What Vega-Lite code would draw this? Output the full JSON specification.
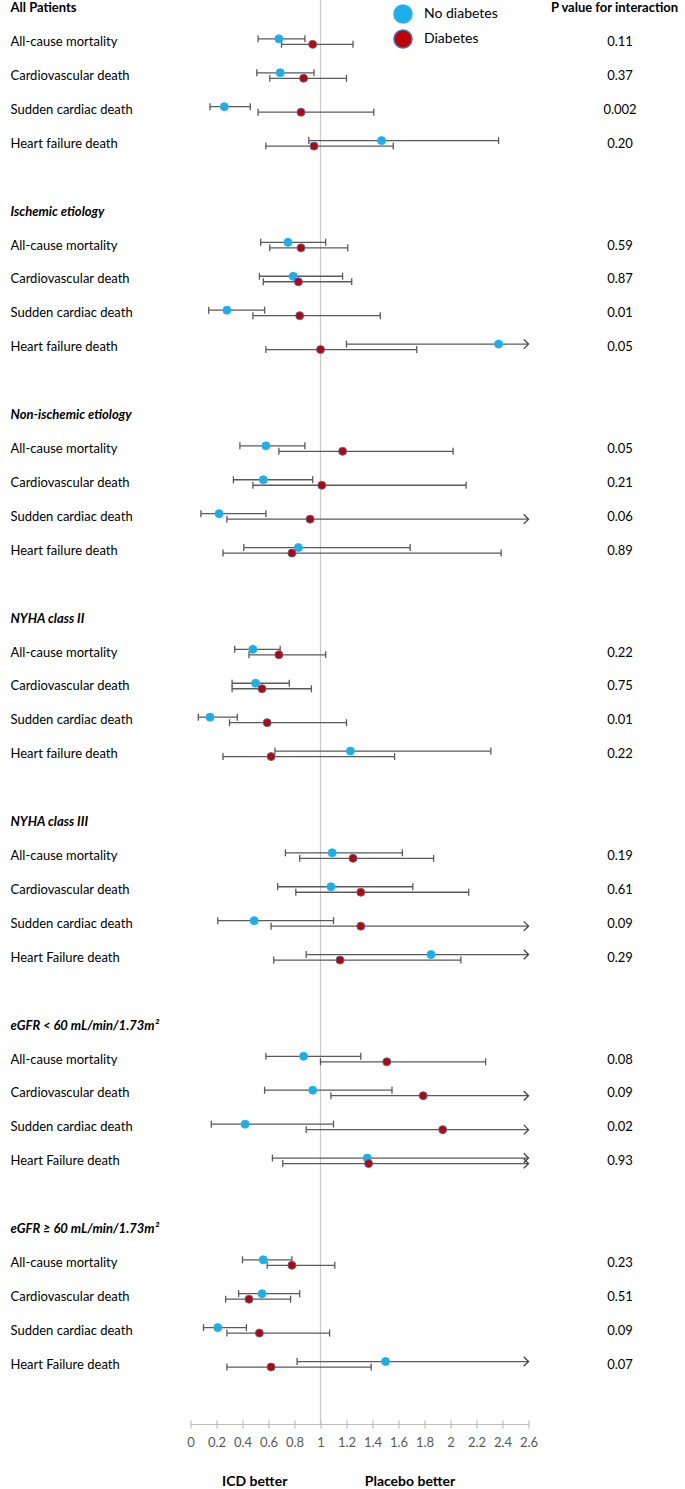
{
  "$schema": "https://vega.github.io/schema/vega-lite/v6.json",
  "width": 338,
  "height": 1424,
  "autosize": {"type": "none"},
  "padding": {"left": 190.5, "top": 0, "right": 156.5, "bottom": 65},
  "background": "white",
  "config": {
    "view": {"stroke": null},
    "font": "Lato",
    "axis": {"grid": false, "title": null},
    "legend": {"padding": 0}
  },
  "data": {"values": [
    {"key": "r1a|All-cause mortality|0.11", "group": "No diabetes", "hr": 0.68, "lo": 0.52, "hi": 0.88, "arrow": false},
    {"key": "r1a|All-cause mortality|0.11", "group": "Diabetes", "hr": 0.94, "lo": 0.70, "hi": 1.25, "arrow": false},
    {"key": "r1b|Cardiovascular death|0.37", "group": "No diabetes", "hr": 0.69, "lo": 0.51, "hi": 0.95, "arrow": false},
    {"key": "r1b|Cardiovascular death|0.37", "group": "Diabetes", "hr": 0.87, "lo": 0.61, "hi": 1.20, "arrow": false},
    {"key": "r1c|Sudden cardiac death|0.002", "group": "No diabetes", "hr": 0.26, "lo": 0.15, "hi": 0.46, "arrow": false},
    {"key": "r1c|Sudden cardiac death|0.002", "group": "Diabetes", "hr": 0.85, "lo": 0.52, "hi": 1.41, "arrow": false},
    {"key": "r1d|Heart failure death|0.20", "group": "No diabetes", "hr": 1.47, "lo": 0.91, "hi": 2.37, "arrow": false},
    {"key": "r1d|Heart failure death|0.20", "group": "Diabetes", "hr": 0.95, "lo": 0.58, "hi": 1.56, "arrow": false},
    {"key": "r2a|All-cause mortality|0.59", "group": "No diabetes", "hr": 0.75, "lo": 0.54, "hi": 1.04, "arrow": false},
    {"key": "r2a|All-cause mortality|0.59", "group": "Diabetes", "hr": 0.85, "lo": 0.61, "hi": 1.21, "arrow": false},
    {"key": "r2b|Cardiovascular death|0.87", "group": "No diabetes", "hr": 0.79, "lo": 0.53, "hi": 1.17, "arrow": false},
    {"key": "r2b|Cardiovascular death|0.87", "group": "Diabetes", "hr": 0.83, "lo": 0.56, "hi": 1.24, "arrow": false},
    {"key": "r2c|Sudden cardiac death|0.01", "group": "No diabetes", "hr": 0.28, "lo": 0.14, "hi": 0.57, "arrow": false},
    {"key": "r2c|Sudden cardiac death|0.01", "group": "Diabetes", "hr": 0.84, "lo": 0.48, "hi": 1.46, "arrow": false},
    {"key": "r2d|Heart failure death|0.05", "group": "No diabetes", "hr": 2.37, "lo": 1.20, "hi": 2.6, "arrow": true},
    {"key": "r2d|Heart failure death|0.05", "group": "Diabetes", "hr": 1.00, "lo": 0.58, "hi": 1.74, "arrow": false},
    {"key": "r3a|All-cause mortality|0.05", "group": "No diabetes", "hr": 0.58, "lo": 0.38, "hi": 0.88, "arrow": false},
    {"key": "r3a|All-cause mortality|0.05", "group": "Diabetes", "hr": 1.17, "lo": 0.68, "hi": 2.02, "arrow": false},
    {"key": "r3b|Cardiovascular death|0.21", "group": "No diabetes", "hr": 0.56, "lo": 0.33, "hi": 0.94, "arrow": false},
    {"key": "r3b|Cardiovascular death|0.21", "group": "Diabetes", "hr": 1.01, "lo": 0.48, "hi": 2.12, "arrow": false},
    {"key": "r3c|Sudden cardiac death|0.06", "group": "No diabetes", "hr": 0.22, "lo": 0.08, "hi": 0.58, "arrow": false},
    {"key": "r3c|Sudden cardiac death|0.06", "group": "Diabetes", "hr": 0.92, "lo": 0.28, "hi": 2.6, "arrow": true},
    {"key": "r3d|Heart failure death|0.89", "group": "No diabetes", "hr": 0.83, "lo": 0.41, "hi": 1.69, "arrow": false},
    {"key": "r3d|Heart failure death|0.89", "group": "Diabetes", "hr": 0.78, "lo": 0.25, "hi": 2.39, "arrow": false},
    {"key": "r4a|All-cause mortality|0.22", "group": "No diabetes", "hr": 0.48, "lo": 0.34, "hi": 0.69, "arrow": false},
    {"key": "r4a|All-cause mortality|0.22", "group": "Diabetes", "hr": 0.68, "lo": 0.45, "hi": 1.04, "arrow": false},
    {"key": "r4b|Cardiovascular death|0.75", "group": "No diabetes", "hr": 0.50, "lo": 0.32, "hi": 0.76, "arrow": false},
    {"key": "r4b|Cardiovascular death|0.75", "group": "Diabetes", "hr": 0.55, "lo": 0.32, "hi": 0.93, "arrow": false},
    {"key": "r4c|Sudden cardiac death|0.01", "group": "No diabetes", "hr": 0.15, "lo": 0.06, "hi": 0.36, "arrow": false},
    {"key": "r4c|Sudden cardiac death|0.01", "group": "Diabetes", "hr": 0.59, "lo": 0.30, "hi": 1.20, "arrow": false},
    {"key": "r4d|Heart failure death|0.22", "group": "No diabetes", "hr": 1.23, "lo": 0.65, "hi": 2.31, "arrow": false},
    {"key": "r4d|Heart failure death|0.22", "group": "Diabetes", "hr": 0.62, "lo": 0.25, "hi": 1.57, "arrow": false},
    {"key": "r5a|All-cause mortality|0.19", "group": "No diabetes", "hr": 1.09, "lo": 0.73, "hi": 1.63, "arrow": false},
    {"key": "r5a|All-cause mortality|0.19", "group": "Diabetes", "hr": 1.25, "lo": 0.84, "hi": 1.87, "arrow": false},
    {"key": "r5b|Cardiovascular death|0.61", "group": "No diabetes", "hr": 1.08, "lo": 0.67, "hi": 1.71, "arrow": false},
    {"key": "r5b|Cardiovascular death|0.61", "group": "Diabetes", "hr": 1.31, "lo": 0.81, "hi": 2.14, "arrow": false},
    {"key": "r5c|Sudden cardiac death|0.09", "group": "No diabetes", "hr": 0.49, "lo": 0.21, "hi": 1.10, "arrow": false},
    {"key": "r5c|Sudden cardiac death|0.09", "group": "Diabetes", "hr": 1.31, "lo": 0.62, "hi": 2.6, "arrow": true},
    {"key": "r5d|Heart Failure death|0.29", "group": "No diabetes", "hr": 1.85, "lo": 0.89, "hi": 2.6, "arrow": true},
    {"key": "r5d|Heart Failure death|0.29", "group": "Diabetes", "hr": 1.15, "lo": 0.64, "hi": 2.08, "arrow": false},
    {"key": "r6a|All-cause mortality|0.08", "group": "No diabetes", "hr": 0.87, "lo": 0.58, "hi": 1.31, "arrow": false},
    {"key": "r6a|All-cause mortality|0.08", "group": "Diabetes", "hr": 1.51, "lo": 1.00, "hi": 2.27, "arrow": false},
    {"key": "r6b|Cardiovascular death|0.09", "group": "No diabetes", "hr": 0.94, "lo": 0.57, "hi": 1.55, "arrow": false},
    {"key": "r6b|Cardiovascular death|0.09", "group": "Diabetes", "hr": 1.79, "lo": 1.08, "hi": 2.6, "arrow": true},
    {"key": "r6c|Sudden cardiac death|0.02", "group": "No diabetes", "hr": 0.42, "lo": 0.16, "hi": 1.10, "arrow": false},
    {"key": "r6c|Sudden cardiac death|0.02", "group": "Diabetes", "hr": 1.94, "lo": 0.89, "hi": 2.6, "arrow": true},
    {"key": "r6d|Heart Failure death|0.93", "group": "No diabetes", "hr": 1.36, "lo": 0.63, "hi": 2.6, "arrow": true},
    {"key": "r6d|Heart Failure death|0.93", "group": "Diabetes", "hr": 1.37, "lo": 0.71, "hi": 2.6, "arrow": true},
    {"key": "r7a|All-cause mortality|0.23", "group": "No diabetes", "hr": 0.56, "lo": 0.40, "hi": 0.78, "arrow": false},
    {"key": "r7a|All-cause mortality|0.23", "group": "Diabetes", "hr": 0.78, "lo": 0.59, "hi": 1.11, "arrow": false},
    {"key": "r7b|Cardiovascular death|0.51", "group": "No diabetes", "hr": 0.55, "lo": 0.37, "hi": 0.84, "arrow": false},
    {"key": "r7b|Cardiovascular death|0.51", "group": "Diabetes", "hr": 0.45, "lo": 0.27, "hi": 0.77, "arrow": false},
    {"key": "r7c|Sudden cardiac death|0.09", "group": "No diabetes", "hr": 0.21, "lo": 0.10, "hi": 0.43, "arrow": false},
    {"key": "r7c|Sudden cardiac death|0.09", "group": "Diabetes", "hr": 0.53, "lo": 0.28, "hi": 1.07, "arrow": false},
    {"key": "r7d|Heart Failure death|0.07", "group": "No diabetes", "hr": 1.50, "lo": 0.82, "hi": 2.6, "arrow": true},
    {"key": "r7d|Heart Failure death|0.07", "group": "Diabetes", "hr": 0.62, "lo": 0.28, "hi": 1.39, "arrow": false}
  ]},
  "resolve": {"axis": {"x": "independent", "y": "independent"}},
  "layer": [
    {
      "data": {"values": [{"ref": 1}]},
      "mark": {"type": "rule", "color": "#C8C8C8", "strokeWidth": 1.2},
      "encoding": {
        "x": {"field": "ref", "type": "quantitative", "scale": {"domain": [0, 2.6], "nice": false, "zero": false}, "axis": null}
      }
    },
    {
      "mark": {"type": "rule", "color": "#5A5A5A", "strokeWidth": 1.3},
      "encoding": {
        "x": {"field": "lo", "type": "quantitative", "scale": {"domain": [0, 2.6], "nice": false, "zero": false},
          "axis": {"orient": "bottom", "values": [0, 0.2, 0.4, 0.6, 0.8, 1, 1.2, 1.4, 1.6, 1.8, 2, 2.2, 2.4, 2.6], "format": "~g",
            "domain": true, "domainColor": "#BFBFBF", "domainWidth": 1.2, "ticks": true, "tickColor": "#BFBFBF", "tickWidth": 1.2, "tickSize": 4,
            "labelPadding": 8, "labelColor": "#595959", "labelFontSize": 13, "labelFlush": false, "labelOverlap": false, "title": null, "grid": false}},
        "x2": {"field": "hi"},
        "y": {"field": "key", "type": "nominal",
          "scale": {"type": "band", "domain": ["h1|All Patients|P value for interaction", "r1a|All-cause mortality|0.11", "r1b|Cardiovascular death|0.37", "r1c|Sudden cardiac death|0.002", "r1d|Heart failure death|0.20", "b1||", "h2|Ischemic etiology|", "r2a|All-cause mortality|0.59", "r2b|Cardiovascular death|0.87", "r2c|Sudden cardiac death|0.01", "r2d|Heart failure death|0.05", "b2||", "h3|Non-ischemic etiology|", "r3a|All-cause mortality|0.05", "r3b|Cardiovascular death|0.21", "r3c|Sudden cardiac death|0.06", "r3d|Heart failure death|0.89", "b3||", "h4|NYHA class II|", "r4a|All-cause mortality|0.22", "r4b|Cardiovascular death|0.75", "r4c|Sudden cardiac death|0.01", "r4d|Heart failure death|0.22", "b4||", "h5|NYHA class III|", "r5a|All-cause mortality|0.19", "r5b|Cardiovascular death|0.61", "r5c|Sudden cardiac death|0.09", "r5d|Heart Failure death|0.29", "b5||", "h6|eGFR < 60 mL/min/1.73m²|", "r6a|All-cause mortality|0.08", "r6b|Cardiovascular death|0.09", "r6c|Sudden cardiac death|0.02", "r6d|Heart Failure death|0.93", "b6||", "h7|eGFR ≥ 60 mL/min/1.73m²|", "r7a|All-cause mortality|0.23", "r7b|Cardiovascular death|0.51", "r7c|Sudden cardiac death|0.09", "r7d|Heart Failure death|0.07"],
            "range": [-8.8, 1381.7], "paddingInner": 0, "paddingOuter": 0},
          "axis": {"orient": "left", "domain": false, "ticks": false, "grid": false, "title": null,
            "labelExpr": "split(datum.value, '|')[1]", "labelAlign": "left", "labelBaseline": "middle", "labelPadding": 180.5,
            "labelFontSize": 13, "labelColor": "#000000", "labelLimit": 400, "labelOverlap": false,
            "labelFontWeight": {"condition": {"test": "substring(datum.value, 0, 1) == 'h'", "value": "bold"}, "value": "normal"},
            "labelFontStyle": {"condition": {"test": "substring(datum.value, 0, 1) == 'h' && substring(datum.value, 0, 2) != 'h1'", "value": "italic"}, "value": "normal"}}},
        "yOffset": {"field": "group", "type": "nominal", "scale": {"domain": ["No diabetes", "Diabetes"], "range": [11, 22], "paddingInner": 0, "paddingOuter": 0}}
      }
    },
    {
      "mark": {"type": "tick", "color": "#5A5A5A", "thickness": 1.3, "size": 7, "opacity": 1},
      "encoding": {
        "x": {"field": "lo", "type": "quantitative", "scale": {"domain": [0, 2.6], "nice": false, "zero": false},
          "axis": {"orient": "bottom", "offset": -4, "values": [0, 0.2, 0.4, 0.6, 0.8, 1, 1.2, 1.4, 1.6, 1.8, 2, 2.2, 2.4, 2.6],
            "domain": false, "labels": false, "ticks": true, "tickColor": "#BFBFBF", "tickWidth": 1.2, "tickSize": 4, "title": null, "grid": false}},
        "y": {"field": "key", "type": "nominal",
          "scale": {"type": "band", "domain": ["h1|All Patients|P value for interaction", "r1a|All-cause mortality|0.11", "r1b|Cardiovascular death|0.37", "r1c|Sudden cardiac death|0.002", "r1d|Heart failure death|0.20", "b1||", "h2|Ischemic etiology|", "r2a|All-cause mortality|0.59", "r2b|Cardiovascular death|0.87", "r2c|Sudden cardiac death|0.01", "r2d|Heart failure death|0.05", "b2||", "h3|Non-ischemic etiology|", "r3a|All-cause mortality|0.05", "r3b|Cardiovascular death|0.21", "r3c|Sudden cardiac death|0.06", "r3d|Heart failure death|0.89", "b3||", "h4|NYHA class II|", "r4a|All-cause mortality|0.22", "r4b|Cardiovascular death|0.75", "r4c|Sudden cardiac death|0.01", "r4d|Heart failure death|0.22", "b4||", "h5|NYHA class III|", "r5a|All-cause mortality|0.19", "r5b|Cardiovascular death|0.61", "r5c|Sudden cardiac death|0.09", "r5d|Heart Failure death|0.29", "b5||", "h6|eGFR < 60 mL/min/1.73m²|", "r6a|All-cause mortality|0.08", "r6b|Cardiovascular death|0.09", "r6c|Sudden cardiac death|0.02", "r6d|Heart Failure death|0.93", "b6||", "h7|eGFR ≥ 60 mL/min/1.73m²|", "r7a|All-cause mortality|0.23", "r7b|Cardiovascular death|0.51", "r7c|Sudden cardiac death|0.09", "r7d|Heart Failure death|0.07"],
            "range": [-8.8, 1381.7], "paddingInner": 0, "paddingOuter": 0},
          "axis": {"orient": "right", "domain": false, "ticks": false, "grid": false, "title": null,
            "labelExpr": "split(datum.value, '|')[2]", "labelAlign": "center", "labelBaseline": "middle",
            "labelPadding": {"condition": {"test": "substring(datum.value, 0, 2) == 'h1'", "value": 85.5}, "value": 91},
            "labelFontSize": 13, "labelColor": "#000000", "labelLimit": 400, "labelOverlap": false,
            "labelFontWeight": {"condition": {"test": "substring(datum.value, 0, 2) == 'h1'", "value": "bold"}, "value": "normal"}}},
        "yOffset": {"field": "group", "type": "nominal", "scale": {"domain": ["No diabetes", "Diabetes"], "range": [11, 22], "paddingInner": 0, "paddingOuter": 0}}
      }
    },
    {
      "transform": [{"filter": "!datum.arrow"}],
      "mark": {"type": "tick", "color": "#5A5A5A", "thickness": 1.3, "size": 7, "opacity": 1},
      "encoding": {
        "x": {"field": "hi", "type": "quantitative", "scale": {"domain": [0, 2.6], "nice": false, "zero": false},
          "axis": {"orient": "bottom", "values": [0.49, 1.685], "labelExpr": "datum.value < 1 ? 'ICD better' : 'Placebo better'",
            "domain": false, "ticks": false, "labelPadding": 50, "labelFontWeight": "bold", "labelColor": "#000000", "labelFontSize": 14,
            "labelFlush": false, "labelOverlap": false, "title": null, "grid": false}},
        "y": {"field": "key", "type": "nominal",
          "scale": {"type": "band", "domain": ["h1|All Patients|P value for interaction", "r1a|All-cause mortality|0.11", "r1b|Cardiovascular death|0.37", "r1c|Sudden cardiac death|0.002", "r1d|Heart failure death|0.20", "b1||", "h2|Ischemic etiology|", "r2a|All-cause mortality|0.59", "r2b|Cardiovascular death|0.87", "r2c|Sudden cardiac death|0.01", "r2d|Heart failure death|0.05", "b2||", "h3|Non-ischemic etiology|", "r3a|All-cause mortality|0.05", "r3b|Cardiovascular death|0.21", "r3c|Sudden cardiac death|0.06", "r3d|Heart failure death|0.89", "b3||", "h4|NYHA class II|", "r4a|All-cause mortality|0.22", "r4b|Cardiovascular death|0.75", "r4c|Sudden cardiac death|0.01", "r4d|Heart failure death|0.22", "b4||", "h5|NYHA class III|", "r5a|All-cause mortality|0.19", "r5b|Cardiovascular death|0.61", "r5c|Sudden cardiac death|0.09", "r5d|Heart Failure death|0.29", "b5||", "h6|eGFR < 60 mL/min/1.73m²|", "r6a|All-cause mortality|0.08", "r6b|Cardiovascular death|0.09", "r6c|Sudden cardiac death|0.02", "r6d|Heart Failure death|0.93", "b6||", "h7|eGFR ≥ 60 mL/min/1.73m²|", "r7a|All-cause mortality|0.23", "r7b|Cardiovascular death|0.51", "r7c|Sudden cardiac death|0.09", "r7d|Heart Failure death|0.07"],
            "range": [-8.8, 1381.7], "paddingInner": 0, "paddingOuter": 0},
          "axis": null},
        "yOffset": {"field": "group", "type": "nominal", "scale": {"domain": ["No diabetes", "Diabetes"], "range": [11, 22], "paddingInner": 0, "paddingOuter": 0}}
      }
    },
    {
      "transform": [{"filter": "datum.arrow"}],
      "mark": {"type": "point", "shape": "M-1,-1L0,0L-1,1", "filled": false, "stroke": "#404040", "strokeWidth": 1.3, "size": 90, "opacity": 1},
      "encoding": {
        "x": {"field": "hi", "type": "quantitative", "scale": {"domain": [0, 2.6], "nice": false, "zero": false}, "axis": null},
        "y": {"field": "key", "type": "nominal",
          "scale": {"type": "band", "domain": ["h1|All Patients|P value for interaction", "r1a|All-cause mortality|0.11", "r1b|Cardiovascular death|0.37", "r1c|Sudden cardiac death|0.002", "r1d|Heart failure death|0.20", "b1||", "h2|Ischemic etiology|", "r2a|All-cause mortality|0.59", "r2b|Cardiovascular death|0.87", "r2c|Sudden cardiac death|0.01", "r2d|Heart failure death|0.05", "b2||", "h3|Non-ischemic etiology|", "r3a|All-cause mortality|0.05", "r3b|Cardiovascular death|0.21", "r3c|Sudden cardiac death|0.06", "r3d|Heart failure death|0.89", "b3||", "h4|NYHA class II|", "r4a|All-cause mortality|0.22", "r4b|Cardiovascular death|0.75", "r4c|Sudden cardiac death|0.01", "r4d|Heart failure death|0.22", "b4||", "h5|NYHA class III|", "r5a|All-cause mortality|0.19", "r5b|Cardiovascular death|0.61", "r5c|Sudden cardiac death|0.09", "r5d|Heart Failure death|0.29", "b5||", "h6|eGFR < 60 mL/min/1.73m²|", "r6a|All-cause mortality|0.08", "r6b|Cardiovascular death|0.09", "r6c|Sudden cardiac death|0.02", "r6d|Heart Failure death|0.93", "b6||", "h7|eGFR ≥ 60 mL/min/1.73m²|", "r7a|All-cause mortality|0.23", "r7b|Cardiovascular death|0.51", "r7c|Sudden cardiac death|0.09", "r7d|Heart Failure death|0.07"],
            "range": [-8.8, 1381.7], "paddingInner": 0, "paddingOuter": 0},
          "axis": null},
        "yOffset": {"field": "group", "type": "nominal", "scale": {"domain": ["No diabetes", "Diabetes"], "range": [11, 22], "paddingInner": 0, "paddingOuter": 0}}
      }
    },
    {
      "mark": {"type": "point", "shape": "circle", "filled": true, "size": 64, "strokeWidth": 1, "opacity": 1},
      "encoding": {
        "x": {"field": "hr", "type": "quantitative", "scale": {"domain": [0, 2.6], "nice": false, "zero": false}, "axis": null},
        "y": {"field": "key", "type": "nominal",
          "scale": {"type": "band", "domain": ["h1|All Patients|P value for interaction", "r1a|All-cause mortality|0.11", "r1b|Cardiovascular death|0.37", "r1c|Sudden cardiac death|0.002", "r1d|Heart failure death|0.20", "b1||", "h2|Ischemic etiology|", "r2a|All-cause mortality|0.59", "r2b|Cardiovascular death|0.87", "r2c|Sudden cardiac death|0.01", "r2d|Heart failure death|0.05", "b2||", "h3|Non-ischemic etiology|", "r3a|All-cause mortality|0.05", "r3b|Cardiovascular death|0.21", "r3c|Sudden cardiac death|0.06", "r3d|Heart failure death|0.89", "b3||", "h4|NYHA class II|", "r4a|All-cause mortality|0.22", "r4b|Cardiovascular death|0.75", "r4c|Sudden cardiac death|0.01", "r4d|Heart failure death|0.22", "b4||", "h5|NYHA class III|", "r5a|All-cause mortality|0.19", "r5b|Cardiovascular death|0.61", "r5c|Sudden cardiac death|0.09", "r5d|Heart Failure death|0.29", "b5||", "h6|eGFR < 60 mL/min/1.73m²|", "r6a|All-cause mortality|0.08", "r6b|Cardiovascular death|0.09", "r6c|Sudden cardiac death|0.02", "r6d|Heart Failure death|0.93", "b6||", "h7|eGFR ≥ 60 mL/min/1.73m²|", "r7a|All-cause mortality|0.23", "r7b|Cardiovascular death|0.51", "r7c|Sudden cardiac death|0.09", "r7d|Heart Failure death|0.07"],
            "range": [-8.8, 1381.7], "paddingInner": 0, "paddingOuter": 0},
          "axis": null},
        "yOffset": {"field": "group", "type": "nominal", "scale": {"domain": ["No diabetes", "Diabetes"], "range": [11, 22], "paddingInner": 0, "paddingOuter": 0}},
        "color": {"field": "group", "type": "nominal",
          "scale": {"domain": ["No diabetes", "Diabetes"], "range": ["#1AAFEC", "#C00000"]},
          "legend": {"title": null, "orient": "none", "legendX": 202.5, "legendY": 4, "symbolType": "circle", "symbolSize": 324,
            "symbolStrokeColor": "#2F5597", "symbolStrokeWidth": 1.5, "symbolOpacity": 1, "labelFontSize": 14, "labelColor": "#000000",
            "labelOffset": 11, "rowPadding": 1, "padding": 0}},
        "stroke": {"field": "group", "type": "nominal",
          "scale": {"domain": ["No diabetes", "Diabetes"], "range": ["#2AB2EA", "#4A6FB0"]}, "legend": null}
      }
    }
  ]
}
